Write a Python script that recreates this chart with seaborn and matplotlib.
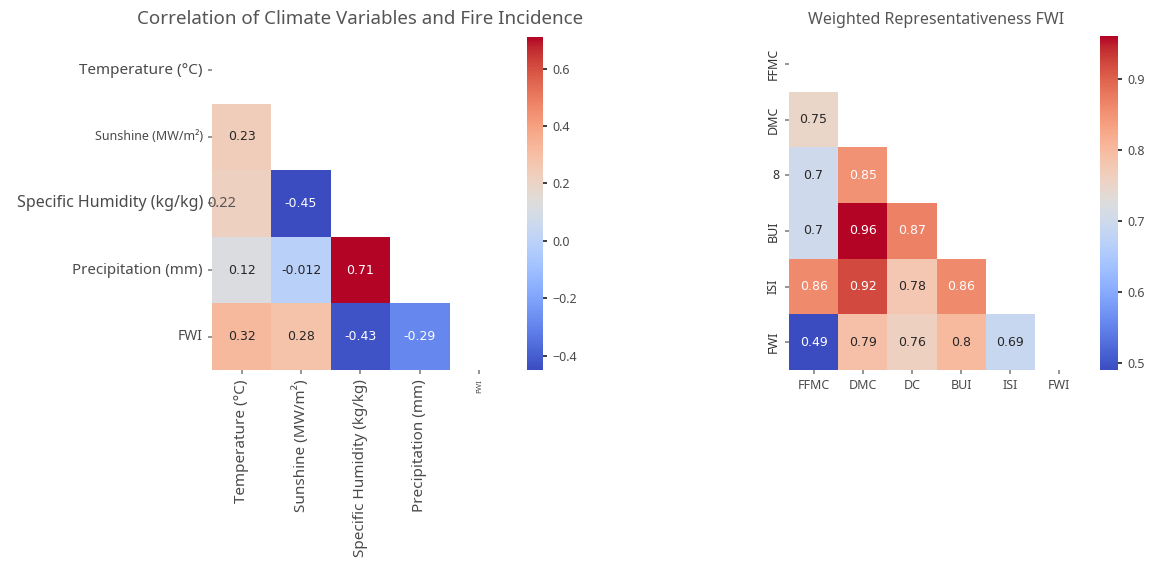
import numpy as np
import pandas as pd
import matplotlib
matplotlib.use("Agg")
import matplotlib.pyplot as plt
import seaborn as sns

# Climate variables vs fire incidence (lower triangle, row-major)
climate_vars = ["Temperature (°C)", "Sunshine (MW/m²)", "Specific Humidity (kg/kg)",
                "Precipitation (mm)", "FWI"]
climate_lower = [
    [0.23],
    [0.22, -0.45],
    [0.12, -0.012, 0.71],
    [0.32, 0.28, -0.43, -0.29],
]

# FWI sub-index representativeness (lower triangle, row-major)
fwi_cols = ["FFMC", "DMC", "DC", "BUI", "ISI", "FWI"]
fwi_rows = ["FFMC", "DMC", "8", "BUI", "ISI", "FWI"]
fwi_lower = [
    [0.75],
    [0.7, 0.85],
    [0.7, 0.96, 0.87],
    [0.86, 0.92, 0.78, 0.86],
    [0.49, 0.79, 0.76, 0.8, 0.69],
]


def full_matrix(lower, n):
    m = np.eye(n)
    for i, row in enumerate(lower, start=1):
        for j, v in enumerate(row):
            m[i, j] = v
            m[j, i] = v
    return m


sns.set_theme(style="white")
plt.rcParams["font.family"] = ["Noto Sans", "DejaVu Sans"]
label_color = "#4a4a4a"

fig = plt.figure(figsize=(11.5, 5.63), dpi=100)

# ---------------- left heatmap ----------------
ax1 = fig.add_axes([0.1843, 0.3428, 0.2583, 0.5915])
cax1 = fig.add_axes([0.4583, 0.3428, 0.0139, 0.5915])
m1 = full_matrix(climate_lower, len(climate_vars))
df1 = pd.DataFrame(m1, index=climate_vars, columns=climate_vars)
mask1 = np.triu(np.ones_like(m1, dtype=bool))
sns.heatmap(df1, mask=mask1, cmap="coolwarm", annot=True, ax=ax1, cbar_ax=cax1,
            annot_kws={"fontsize": 9, "family": "DejaVu Sans"})
ax1.set_title("Correlation of Climate Variables and Fire Incidence",
              fontsize=13.5, color="#555555", pad=9)

# the humidity/temperature value sits against the row label
for t in ax1.texts:
    x, y = t.get_position()
    if abs(x - 0.5) < 1e-6 and abs(y - 2.5) < 1e-6:
        t.set_position((0.16, y))
        t.set_color("#555555")
        t.set_fontfamily("Noto Sans")
        t.set_fontsize(10.5)

ysizes = [11, 9, 11.5, 10.8, 10]
for lab, fs in zip(ax1.get_yticklabels(), ysizes):
    lab.set_fontsize(fs)
    lab.set_color(label_color)
    lab.set_rotation(0)
ax1.get_yticklabels()[-1].set_fontweight("bold")
xsizes = [11, 11, 11, 11, 5.5]
for lab, fs in zip(ax1.get_xticklabels(), xsizes):
    lab.set_fontsize(fs)
    lab.set_color(label_color)
    lab.set_rotation(90)
ax1.tick_params(axis="both", length=3, color="#888888", left=True, bottom=True)
cax1.tick_params(labelsize=9, labelcolor=label_color, length=3, right=True)

# ---------------- right heatmap ----------------
ax2 = fig.add_axes([0.6861, 0.3428, 0.2565, 0.5932])
cax2 = fig.add_axes([0.9565, 0.3428, 0.0157, 0.5932])
m2 = full_matrix(fwi_lower, len(fwi_cols))
df2 = pd.DataFrame(m2, index=fwi_rows, columns=fwi_cols)
mask2 = np.triu(np.ones_like(m2, dtype=bool))
sns.heatmap(df2, mask=mask2, cmap="coolwarm", annot=True, ax=ax2, cbar_ax=cax2,
            annot_kws={"fontsize": 9, "family": "DejaVu Sans"})
ax2.set_title("Weighted Representativeness FWI", fontsize=11.5,
              color="#555555", pad=9)
for lab in ax2.get_yticklabels():
    lab.set_fontsize(9)
    lab.set_color("#333333")
    if lab.get_text() != "8":
        lab.set_fontweight("bold")
    lab.set_rotation(0 if lab.get_text() == "8" else 90)
    lab.set_va("center")
for lab in ax2.get_xticklabels():
    lab.set_fontsize(9)
    lab.set_color(label_color)
    lab.set_rotation(0)
ax2.tick_params(axis="both", length=3, color="#888888", left=True, bottom=True)
cax2.tick_params(labelsize=9, labelcolor=label_color, length=3, right=True)

fig.savefig("out.png", dpi=100)
